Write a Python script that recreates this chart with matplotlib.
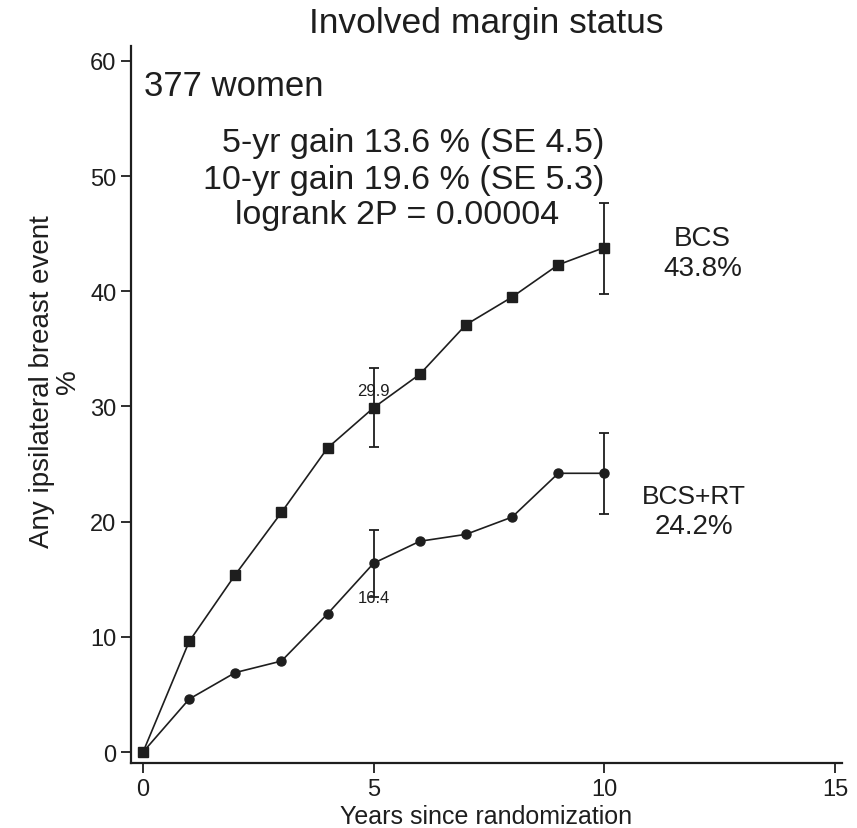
import numpy as np
import matplotlib
matplotlib.use("Agg")
import matplotlib.pyplot as plt

plt.rcParams['font.family'] = ['Liberation Sans', 'DejaVu Sans']

years = np.arange(11)
bcs = [0, 9.6, 15.4, 20.8, 26.4, 29.9, 32.8, 37.1, 39.5, 42.3, 43.8]
bcs_rt = [0, 4.6, 6.9, 7.9, 12.0, 16.4, 18.3, 18.9, 20.4, 24.2, 24.2]

# error bars at 5 and 10 years (lower, upper)
err_years = [5, 10]
bcs_lo = [26.5, 39.8]
bcs_hi = [33.3, 47.7]
rt_lo = [13.5, 20.7]
rt_hi = [19.3, 27.7]

gain_lines = ['5-yr gain 13.6 % (SE 4.5)', '10-yr gain 19.6 % (SE 5.3)', 'logrank 2P = 0.00004']

ink = '#1e1e1e'

fig = plt.figure(figsize=(8.57, 8.29), dpi=100)
ax = fig.add_axes([0.1529, 0.0784, 0.8296, 0.865])

ax.plot(years, bcs, color=ink, lw=1.2, marker='s', ms=7)
ax.plot(years, bcs_rt, color=ink, lw=1.2, marker='o', ms=6.5)

for lo_list, hi_list in [(bcs_lo, bcs_hi), (rt_lo, rt_hi)]:
    for x, lo, hi in zip(err_years, lo_list, hi_list):
        ax.errorbar(x, (lo + hi) / 2, yerr=(hi - lo) / 2, fmt='none',
                    ecolor=ink, elinewidth=1.3, capsize=3.5, capthick=1.3)

ax.text(5, 31.4, '29.9', ha='center', va='center', fontsize=12, color=ink)
ax.text(5, 13.4, '16.4', ha='center', va='center', fontsize=12, color=ink)

ax.text(0.02, 57.0, '377 women', ha='left', va='baseline', fontsize=25, color=ink)
for xc, yb, s in zip([5.85, 5.65, 5.51], [52.2, 49.0, 45.9], gain_lines):
    ax.text(xc, yb, s, ha='center', va='baseline', fontsize=24.5, color=ink)

ax.text(12.13, 44.0, 'BCS', ha='center', va='baseline', fontsize=20, color=ink)
ax.text(12.13, 41.4, '43.8%', ha='center', va='baseline', fontsize=20, color=ink)
ax.text(11.95, 21.6, 'BCS+RT', ha='center', va='baseline', fontsize=19, color=ink)
ax.text(11.95, 19.0, '24.2%', ha='center', va='baseline', fontsize=20, color=ink)

ax.set_xlim(-0.26, 15.15)
ax.set_ylim(-0.95, 61.3)
ax.set_xticks([0, 5, 10, 15])
ax.set_yticks(np.arange(0, 61, 10))
ax.spines['top'].set_visible(False)
ax.spines['right'].set_visible(False)
for s in ['left', 'bottom']:
    ax.spines[s].set_linewidth(1.6)
    ax.spines[s].set_color(ink)
ax.tick_params(axis='both', direction='out', length=7, width=1.3, labelsize=17, colors=ink)
ax.tick_params(axis='x', pad=4)

ax.set_xlabel('Years since randomization', fontsize=18, color=ink, labelpad=3)
ax.set_ylabel('Any ipsilateral breast event\n%', fontsize=20, color=ink, linespacing=1.0)
ax.yaxis.set_label_coords(-0.07, 0.533)
ax.set_title('Involved margin status', fontsize=25.5, color=ink, pad=10)

fig.savefig('out.png', dpi=100)
